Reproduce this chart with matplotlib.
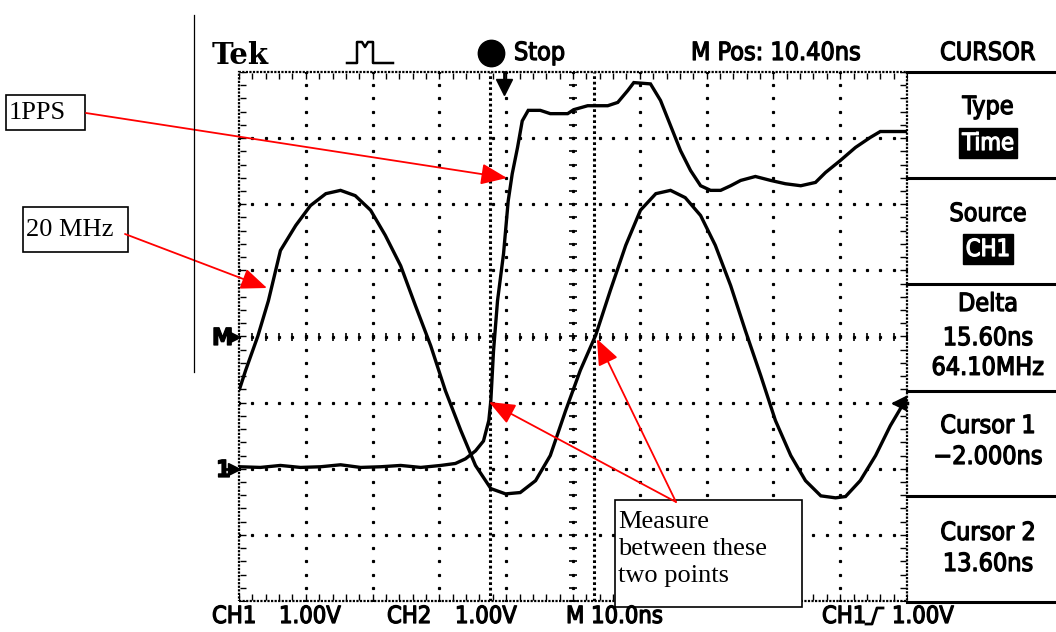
import numpy as np
import matplotlib
matplotlib.use('Agg')
import matplotlib.pyplot as plt
import matplotlib.patheffects as pe
from matplotlib.patches import Rectangle, FancyArrowPatch
from matplotlib import font_manager

# scope settings
ns_per_div = 10.0
m_pos = 10.40
cursor1 = -2.0
cursor2 = 13.6
ch1_pos = -2.0          # CH1 ground marker, divisions from centre
trig_level = 1.0        # volts on CH1

# 1PPS trace (CH1), time in ns, volts above CH1 ground
ch1_t = [-39.5, -36.4, -33.4, -30.4, -27.4, -24.4, -21.4, -18.4, -15.4, -12.4,
         -9.4, -7.2, -5.7, -4.2, -3.0, -2.2, -1.9, -1.5, -0.9, 0.0,
         0.7, 1.3, 2.1, 2.8, 3.7, 5.5, 7.0, 9.6, 10.5, 12.6,
         15.6, 17.1, 18.6, 19.5, 22.0, 23.5, 25.0, 26.5, 28.0, 29.5,
         31.0, 32.5, 34.0, 35.5, 37.7, 40.0, 42.2, 44.5, 46.7, 48.2,
         50.4, 52.7, 54.9, 56.4, 60.3]
ch1_v = [0.03, 0.02, 0.05, 0.02, 0.03, 0.06, 0.02, 0.03, 0.05, 0.02,
         0.05, 0.08, 0.15, 0.27, 0.42, 0.73, 1.03, 1.78, 2.54, 3.25,
         4.05, 4.46, 4.86, 5.26, 5.42, 5.42, 5.37, 5.37, 5.43, 5.49,
         5.49, 5.54, 5.72, 5.84, 5.82, 5.57, 5.19, 4.81, 4.51, 4.28,
         4.21, 4.21, 4.28, 4.36, 4.42, 4.36, 4.31, 4.28, 4.33, 4.48,
         4.66, 4.86, 5.01, 5.10, 5.10]

# 20 MHz trace (CH2), divisions from centre
ch2_t = [-39.5, -38.6, -36.8, -35.2, -33.4, -31.1, -28.9, -26.6, -24.4, -22.2,
         -19.9, -17.7, -15.4, -13.2, -10.9, -8.7, -6.4, -4.2, -1.9, 0.3,
         2.5, 4.8, 7.0, 9.3, 11.5, 13.8, 16.0, 18.3, 20.5, 22.8,
         25.0, 27.2, 29.5, 31.7, 34.0, 36.2, 38.5, 40.7, 43.0, 45.2,
         47.5, 49.7, 51.2, 53.4, 55.7, 57.9, 60.3]
ch2_v = [-0.79, -0.51, 0.0, 0.54, 1.30, 1.68, 1.98, 2.16, 2.21, 2.13,
         1.91, 1.53, 1.07, 0.47, -0.14, -0.82, -1.42, -1.95, -2.30, -2.38,
         -2.36, -2.18, -1.80, -1.12, -0.51, 0.02, 0.70, 1.38, 1.91, 2.16,
         2.21, 2.10, 1.83, 1.38, 0.77, 0.09, -0.59, -1.27, -1.80, -2.18,
         -2.41, -2.44, -2.42, -2.18, -1.80, -1.35, -0.94]

menu_rows = [("Type", "Time"), ("Source", "CH1"), ("Delta", "15.60ns\n64.10MHz"),
             ("Cursor 1", "\u22122.000ns"), ("Cursor 2", "13.60ns")]

# narrow screen font
SCOPE = font_manager.FontProperties(family='DejaVu Sans', stretch='condensed')
SERIF = ['Liberation Serif', 'DejaVu Serif']

W, H = 1056, 632
fig = plt.figure(figsize=(W / 100, H / 100), dpi=100)

# graticule area in pixels
gx0, gx1, gy0, gy1 = 239, 907, 72, 601
ax = fig.add_axes([gx0 / W, 1 - gy1 / H, (gx1 - gx0) / W, (gy1 - gy0) / H])
x0 = m_pos - 5 * ns_per_div
x1 = m_pos + 5 * ns_per_div
ax.set_xlim(x0, x1)
ax.set_ylim(-4, 4)
ax.axis('off')

# dotted grid, dots every 1/5 division
xs = np.arange(x0, x1 + 0.01, ns_per_div / 5)
ys = np.arange(-4, 4.01, 0.2)
for k in range(1, 10):
    ax.plot(np.full_like(ys, x0 + k * ns_per_div), ys, ls='none', marker='s', ms=1.3, color='black')
for j in range(-3, 4):
    ax.plot(xs, np.full_like(xs, j), ls='none', marker='s', ms=1.3, color='black')
# centre line ticks
ax.plot(xs, np.zeros_like(xs), ls='none', marker='|', ms=6, mew=1.2, color='black')
ax.plot(np.full_like(ys, m_pos), ys, ls='none', marker='_', ms=6, mew=1.2, color='black')

# border with inward ticks
ax.add_patch(Rectangle((x0, -4), x1 - x0, 8, fill=False, lw=1.6,
                       ls=(0, (1, 0.6)), ec='black', clip_on=False))
ax.plot(xs, np.full_like(xs, 3.94), ls='none', marker='|', ms=5, mew=1, color='black')
ax.plot(xs, np.full_like(xs, -3.94), ls='none', marker='|', ms=5, mew=1, color='black')
ax.plot(np.full_like(ys, x0 + 0.6), ys, ls='none', marker='_', ms=5, mew=1, color='black')
ax.plot(np.full_like(ys, x1 - 0.6), ys, ls='none', marker='_', ms=5, mew=1, color='black')

# cursors
for c in (cursor1, cursor2):
    ax.axvline(c, color='black', lw=2.2, ls=(0, (0.9, 0.9)))

# traces
ax.plot(ch2_t, ch2_v, color='black', lw=2.4, solid_joinstyle='miter')
ax.plot(ch1_t, np.array(ch1_v) + ch1_pos, color='black', lw=2.4, solid_joinstyle='miter')

# trigger position and level markers
ax.plot([0, 0], [4, 3.85], color='black', lw=2, clip_on=False)
ax.plot(0, 3.78, marker='v', ms=11, color='black', clip_on=False)
ax.plot(x1 - 1.2, ch1_pos + trig_level, marker='<', ms=10, color='black', clip_on=False)
ax.plot([x1 - 1.2, x1], [ch1_pos + trig_level] * 2, color='black', lw=2.5, clip_on=False)

# reference markers on the left edge
ax.plot(x0 - 0.8, 0, marker='>', ms=8, color='black', clip_on=False)
ax.plot(x0 - 0.8, ch1_pos, marker='>', ms=8, color='black', clip_on=False)
ax.plot([x0 - 2.4, x0], [ch1_pos, ch1_pos], color='black', lw=2, clip_on=False)

# overlay in pixel coordinates
ov = fig.add_axes([0, 0, 1, 1], zorder=5)
ov.set_xlim(0, W)
ov.set_ylim(H, 0)
ov.axis('off')
ov.patch.set_alpha(0)


def scope_text(x, y, s, size=18, color='black', **kw):
    fp = SCOPE.copy()
    fp.set_size(size)
    if kw.pop('bold', False):
        fp.set_weight('bold')
    t = ov.text(x, y, s, fontproperties=fp, va='center', color=color, **kw)
    t.set_path_effects([pe.withStroke(linewidth=0.9, foreground=color)])
    return t


scope_text(212, 338, "M", 17, bold=True, ha='left')
scope_text(216, 470, "1", 17, bold=True, ha='left')

# header
ov.text(212, 56, "Tek", fontsize=21, fontweight='bold', family=['DejaVu Serif'],
        ha='left', va='center')
ov.plot([347, 357, 357, 362, 365, 368, 373, 373, 393],
        [63, 63, 42, 42, 47, 42, 42, 63, 63], color='black', lw=1.8)
ov.plot(491, 53, marker='o', ms=19, color='black')
scope_text(514, 53, "Stop", 18, ha='left')
scope_text(691, 53, "M Pos: 10.40ns", 18, ha='left')
scope_text(988, 53, "CURSOR", 18, ha='center')

# footer
scope_text(212, 616, "CH1", 17, ha='left')
scope_text(279, 616, "1.00V", 17, ha='left')
scope_text(387, 616, "CH2", 17, ha='left')
scope_text(455, 616, "1.00V", 17, ha='left')
scope_text(566, 616, "M 10.0ns", 17, ha='left')
scope_text(822, 616, "CH1", 17, ha='left')
ov.plot([866, 872, 877, 883], [624, 624, 608, 608], color='black', lw=2)
scope_text(892, 616, "1.00V", 17, ha='left')

# right menu
for yl in (72, 178, 284, 391, 496, 602):
    ov.plot([907, W], [yl, yl], color='black', lw=2.2)
menu_y = [(107, 143), (214, 249), (304, 353), (426, 457), (533, 564)]
for (title, value), (ya, yb) in zip(menu_rows, menu_y):
    scope_text(988, ya, title, 18, ha='center')
    if title in ("Type", "Source"):
        scope_text(988, yb, value, 17, color='white', ha='center',
                   bbox=dict(boxstyle='square,pad=0.12', fc='black', ec='black'))
    else:
        scope_text(988, yb, value, 18, ha='center', linespacing=1.3)

# document margin line
ov.plot([194, 194], [15, 372], color='black', lw=0.9)


# annotation boxes
def label_box(xa, ya, xb, yb, text, ty):
    ov.add_patch(Rectangle((xa, ya), xb - xa, yb - ya, fc='white', ec='black', lw=1.2))
    ov.text(xa + 3, ty, text, fontsize=19, family=SERIF,
            ha='left', va='center', linespacing=1.3)


label_box(6, 95, 85, 130, "1PPS", 113)
label_box(23, 207, 128, 252, "20 MHz", 230)
label_box(615, 500, 802, 607, "Measure\nbetween these\ntwo points", 549)


def red_arrow(p, q):
    ov.add_patch(FancyArrowPatch(p, q, arrowstyle='-|>,head_length=1.6,head_width=0.65',
                                 mutation_scale=10, color='red', lw=1.3,
                                 shrinkA=0, shrinkB=0))


red_arrow((86, 113), (507, 178))
red_arrow((125, 234), (267, 288))
red_arrow((676, 502), (489, 402))
red_arrow((676, 502), (597, 339))

fig.savefig("out.png", dpi=100)
